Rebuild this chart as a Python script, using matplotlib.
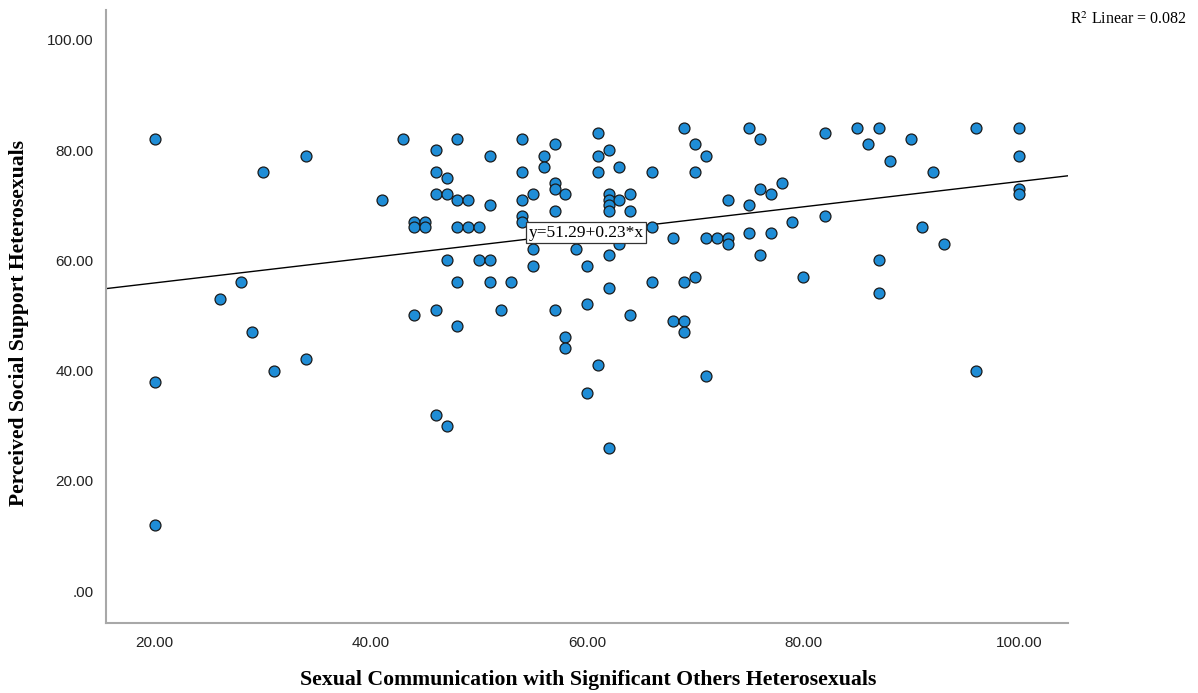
import matplotlib
matplotlib.use("Agg")
import matplotlib.pyplot as plt
import numpy as np

plt.rcParams["mathtext.fontset"] = "stix"

# Data
comm_x = [20, 20, 20, 26, 28, 29, 30, 31, 34, 34, 41, 43,
          44, 44, 44, 45, 45, 46, 46, 46, 46, 46, 47, 47, 47, 47,
          48, 48, 48, 48, 48, 49, 49, 50, 50, 51, 51, 51, 51, 52, 53,
          54, 54, 54, 54, 54, 55, 55, 55, 56, 56, 57, 57, 57, 57, 57,
          58, 58, 58, 59, 60, 60, 60, 61, 61, 61, 61,
          62, 62, 62, 62, 62, 62, 62, 62, 63, 63, 63, 64, 64, 64,
          66, 66, 66, 68, 68, 69, 69, 69, 69, 70, 70, 70, 71, 71, 71, 72,
          73, 73, 73, 75, 75, 75, 76, 76, 76, 77, 77, 78, 79, 80, 82, 82,
          85, 86, 87, 87, 87, 88, 90, 91, 92, 93, 96, 96, 100, 100, 100, 100]
support_y = [82, 38, 12, 53, 56, 47, 76, 40, 79, 42, 71, 82,
             67, 66, 50, 67, 66, 80, 76, 72, 51, 32, 75, 72, 60, 30,
             82, 71, 66, 56, 48, 71, 66, 66, 60, 79, 70, 60, 56, 51, 56,
             82, 76, 71, 68, 67, 72, 62, 59, 79, 77, 81, 74, 73, 69, 51,
             72, 46, 44, 62, 59, 52, 36, 83, 79, 76, 41,
             80, 72, 71, 70, 69, 61, 55, 26, 77, 71, 63, 72, 69, 50,
             76, 66, 56, 64, 49, 84, 56, 49, 47, 81, 76, 57, 79, 64, 39, 64,
             71, 64, 63, 84, 70, 65, 82, 73, 61, 72, 65, 74, 67, 57, 83, 68,
             84, 81, 84, 60, 54, 78, 82, 66, 76, 63, 84, 40, 84, 79, 73, 72]

fit_intercept = 51.29
fit_slope = 0.23
r2_linear = 0.082

x_ticks = [20, 40, 60, 80, 100]
x_tick_labels = ["20.00", "40.00", "60.00", "80.00", "100.00"]
y_ticks = [0, 20, 40, 60, 80, 100]
y_tick_labels = [".00", "20.00", "40.00", "60.00", "80.00", "100.00"]

x_label = "Sexual Communication with Significant Others Heterosexuals"
y_label = "Perceived Social Support Heterosexuals"

W, H = 1198, 693
fig = plt.figure(figsize=(W / 100, H / 100), dpi=100)
ax = fig.add_axes([0.0885, 0.101, 0.803, 0.8846])

xmin, xmax = 15.5, 104.5
ymin, ymax = -5.8, 105.4
ax.set_xlim(xmin, xmax)
ax.set_ylim(ymin, ymax)

# regression line across full x range
lx = np.array([xmin, xmax])
ax.plot(lx, fit_intercept + fit_slope * lx, color="black", lw=1.0, zorder=2)

ax.scatter(comm_x, support_y, s=62, facecolor="#1f8dd6", edgecolor="#1a1a1a",
           linewidth=0.9, zorder=3)

for side in ["top", "right"]:
    ax.spines[side].set_visible(False)
for side in ["left", "bottom"]:
    ax.spines[side].set_color("#a8a8a8")
    ax.spines[side].set_linewidth(1.5)

ax.set_xticks(x_ticks)
ax.set_xticklabels(x_tick_labels, family="Liberation Sans", fontsize=11, color="#222222")
ax.set_yticks(y_ticks)
ax.set_yticklabels(y_tick_labels, family="Liberation Sans", fontsize=11, color="#222222")
ax.tick_params(axis="both", length=0)
ax.tick_params(axis="x", pad=9)
ax.tick_params(axis="y", pad=9)

fig.text(588 / W, 1 - 680 / H, x_label, family="Liberation Serif", fontweight="bold",
         fontsize=15.7, ha="center", va="center")
fig.text(19 / W, 1 - 323 / H, y_label, family="Liberation Serif", fontweight="bold",
         fontsize=15.6, ha="center", va="center", rotation=90)

# equation label box
ax.text(59.9, 65.0, "y=51.29+0.23*x", family="Liberation Serif", fontsize=12.5,
        ha="center", va="center", zorder=4,
        bbox=dict(boxstyle="square,pad=0.15", facecolor="white", edgecolor="#333333", linewidth=0.9))

fig.text(1187 / W, 1 - 20 / H, "R$^2$ Linear = %.3f" % r2_linear,
         family="Liberation Serif", fontsize=11.5, ha="right", va="center")

fig.savefig("out.png", dpi=100, facecolor="white")
